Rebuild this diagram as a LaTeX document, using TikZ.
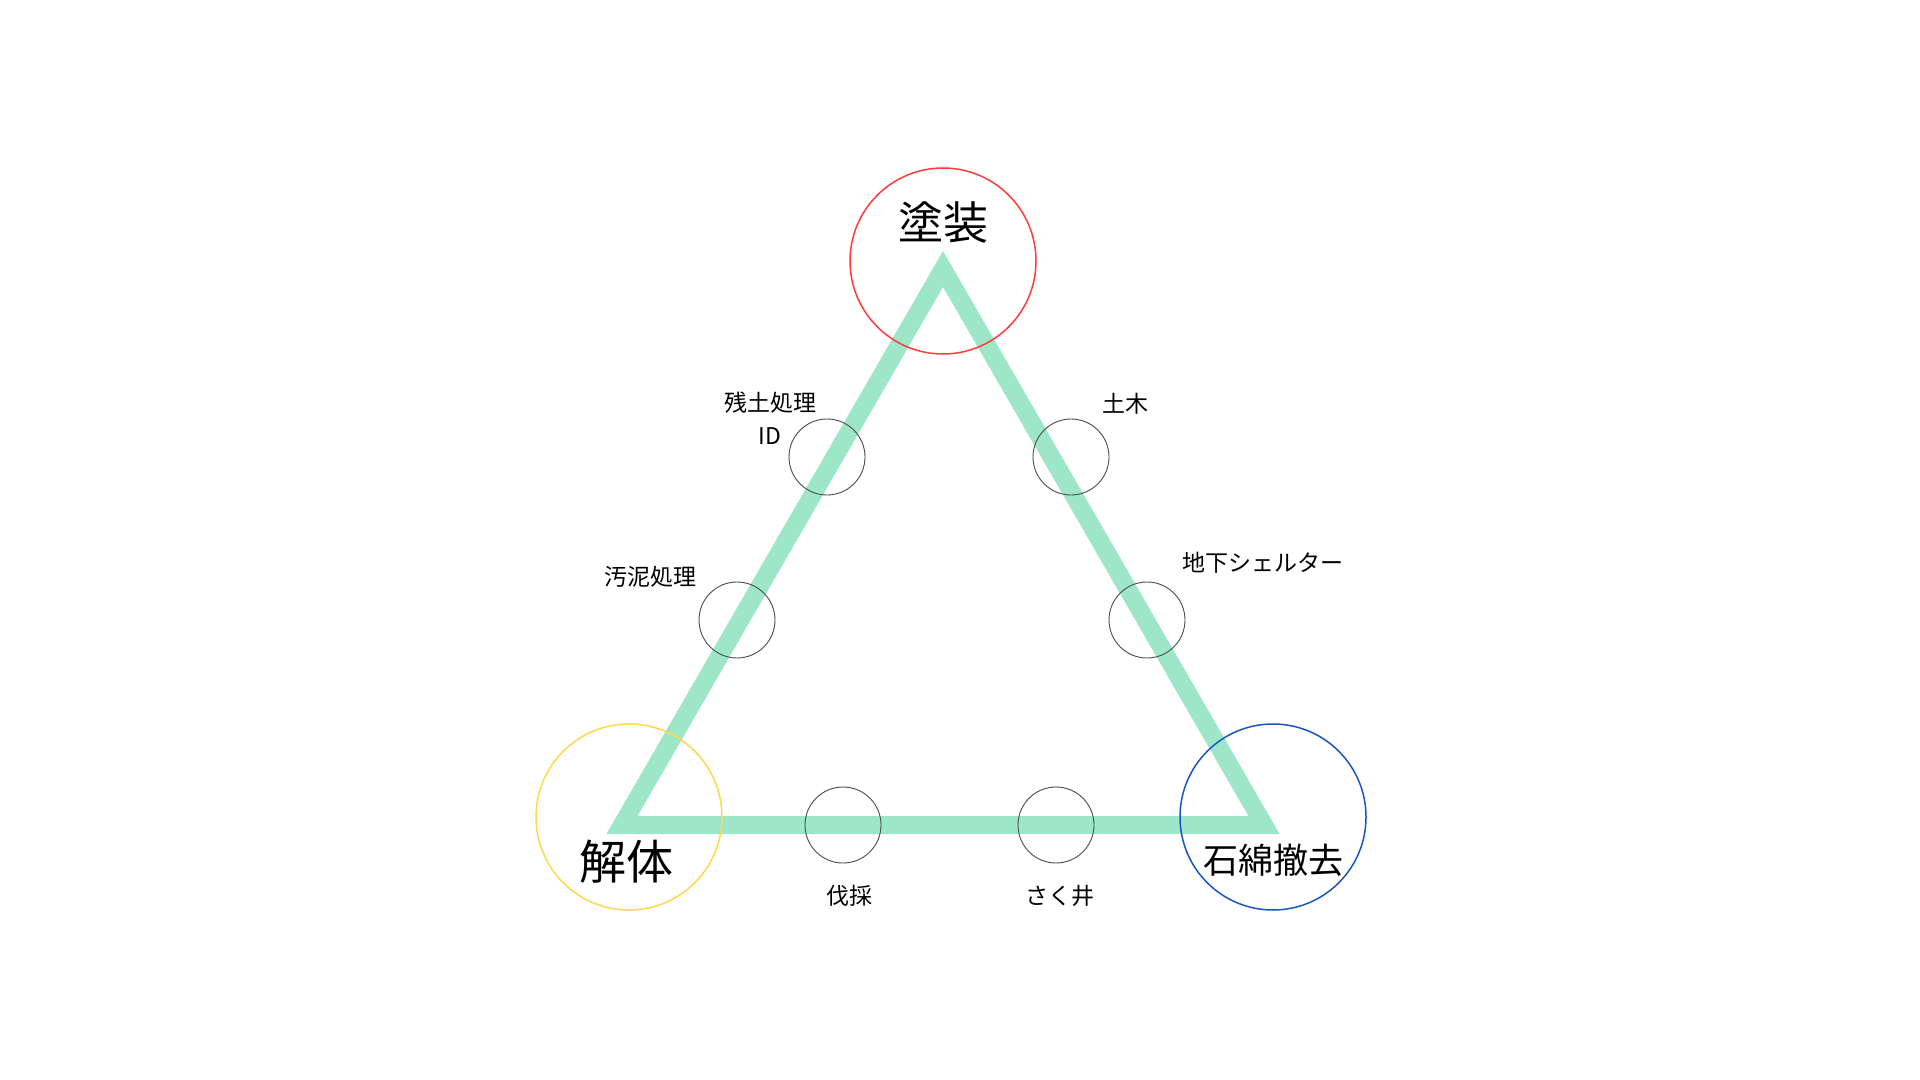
\documentclass[tikz,border=0pt]{standalone}
\usepackage{fontspec}
\setmainfont{Noto Sans CJK JP}
\usetikzlibrary{positioning}
\tikzstyle{bigring} =[circle, draw, line width=0.75pt, minimum size=93pt, inner sep=0pt]
\tikzstyle{smallring} =[circle, draw=black!70, line width=0.45pt, minimum size=38pt, inner sep=0pt]
\tikzstyle{tag} =[inner sep=0pt, align=center, font=\fontsize{11.5pt}{16.5pt}\selectfont]
\definecolor{triGreen}{HTML}{9EE6C8}
\definecolor{tosouRed}{HTML}{FF3B3B}
\definecolor{kaitaiYellow}{HTML}{FFD84A}
\definecolor{sekimenBlue}{HTML}{1A56C0}

\begin{document}
\begin{tikzpicture}[x=0.5pt, y=-0.5pt]
\fill[white] (0,0) rectangle (1920,1080);
\useasboundingbox (0,0) rectangle (1920,1080);

\coordinate (topCorner) at (943,269);
\coordinate (leftCorner) at (622,825);
\coordinate (rightCorner) at (1264,825);
\draw[triGreen, line width=9pt, line join=miter] (topCorner) -- (leftCorner) -- (rightCorner) -- cycle;

\node (tosouRing) [bigring, draw=tosouRed] at (943,261) {};
\node (kaitaiRing) [bigring, draw=kaitaiYellow] at (629,817) {};
\node (sekimenRing) [bigring, draw=sekimenBlue] at (1273,817) {};
\node (tosou) [inner sep=0pt, font=\fontsize{22.5pt}{27pt}\selectfont] at (943,222) {塗装};
\node (kaitai) [inner sep=0pt, font=\fontsize{23.5pt}{28pt}\selectfont] at (626,862) {解体};
\node (sekimen) [inner sep=0pt, font=\fontsize{17.5pt}{21pt}\selectfont] at (1273,860) {石綿撤去};

\node (zandoRing) [smallring] at (827,457) {};
\node (odeiRing) [smallring] at (737,620) {};
\node (dobokuRing) [smallring] at (1071,457) {};
\node (shelterRing) [smallring] at (1147,620) {};
\node (bassaiRing) [smallring] at (843,825) {};
\node (sakuseiRing) [smallring] at (1056,825) {};

\node (zando) [tag] at (770,418) {残土処理\\ID};
\node (odei) [tag] at (650,577) {汚泥処理};
\node (doboku) [tag] at (1125,404) {土木};
\node (shelter) [tag] at (1263,563) {地下シェルター};
\node (bassai) [tag, below=10.5pt of bassaiRing, xshift=3pt] {伐採};
\node (sakusei) [tag, below=10.5pt of sakuseiRing, xshift=2pt] {さく井};
\end{tikzpicture}
\end{document}
